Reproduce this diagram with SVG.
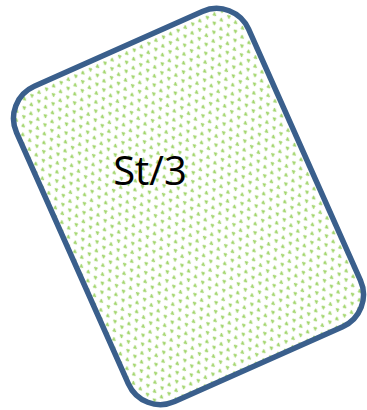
<svg xmlns="http://www.w3.org/2000/svg" width="367" height="410" viewBox="0 0 367 410">
<style>
.shape{fill:url(#divot);stroke:#3a5f8c;stroke-width:5.5}
.lbl{font-family:"Open Sans","Liberation Sans",Arial,sans-serif;font-size:40px;fill:#000}
.chev{fill:none;stroke:#9fd468;stroke-width:1.6}
</style>
<defs>
<pattern id="divot" patternUnits="userSpaceOnUse" width="16" height="16">
<rect width="16" height="16" fill="#fff"/>
<path class="chev" d="M1 1.5 L3 3 L1 4.5"/>
<path class="chev" d="M11 1.5 L9 3 L11 4.5"/>
<path class="chev" d="M7 9.5 L5 11 L7 12.5"/>
<path class="chev" d="M13 9.5 L15 11 L13 12.5"/>
</pattern>
</defs>
<g id="node-st3">
<rect class="shape" x="-127" y="-172.5" width="254" height="345" rx="35" ry="35" transform="translate(188.5 206.5) rotate(-24)"/>
<text class="lbl" x="150" y="185" text-anchor="middle">St/3</text>
</g>
<g id="connectors"/>
</svg>
